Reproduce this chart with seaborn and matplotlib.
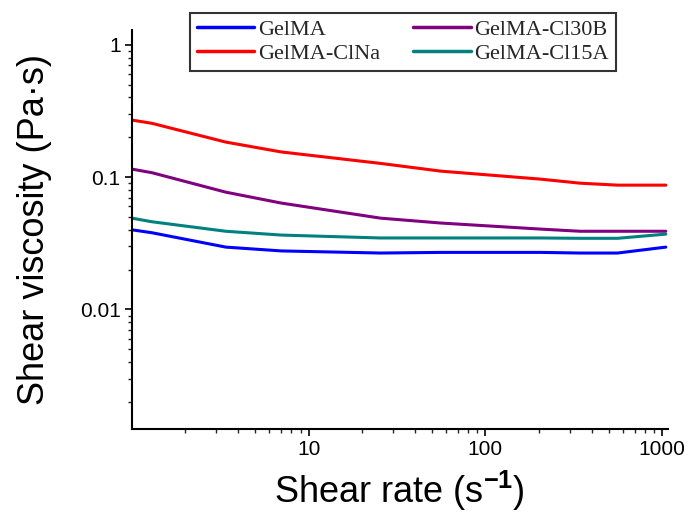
import numpy as np
import pandas as pd
import matplotlib
matplotlib.use("Agg")
import matplotlib.pyplot as plt
import matplotlib.ticker as mticker
import seaborn as sns

# 剪切速率 (s^-1)
shear_rate = [1.0, 1.3, 3.4, 7.0, 25.5, 56.0, 205.0, 344.0, 560.0, 1050.0]

# 各组剪切粘度 (Pa·s)
gelma = [0.040, 0.038, 0.0296, 0.0277, 0.0267, 0.0270, 0.0270, 0.0267, 0.0267, 0.0296]
gelma_clna = [0.27, 0.255, 0.184, 0.155, 0.127, 0.111, 0.0966, 0.090, 0.087, 0.087]
gelma_cl30b = [0.115, 0.108, 0.077, 0.0637, 0.049, 0.045, 0.0405, 0.039, 0.039, 0.039]
gelma_cl15a = [0.049, 0.046, 0.039, 0.0365, 0.0347, 0.0347, 0.0347, 0.0345, 0.0345, 0.0371]

series_names = ["GelMA", "GelMA-ClNa", "GelMA-Cl30B", "GelMA-Cl15A"]
series_colors = ["#0000ff", "#ff0000", "#800080", "#008080"]

frames = []
for name, vals in zip(series_names, [gelma, gelma_clna, gelma_cl30b, gelma_cl15a]):
    frames.append(pd.DataFrame({"rate": shear_rate, "visc": vals, "sample": name}))
df = pd.concat(frames, ignore_index=True)

sns.set_style("ticks")
plt.rcParams["font.family"] = ["Liberation Sans", "DejaVu Sans"]
plt.rcParams["mathtext.fontset"] = "custom"
plt.rcParams["mathtext.rm"] = "Liberation Sans"
plt.rcParams["mathtext.bf"] = "Liberation Sans:bold"

fig = plt.figure(figsize=(6.94, 5.20), dpi=100)
ax = fig.add_axes([0.190, 0.175, 0.7725, 0.767])

sns.lineplot(
    data=df, x="rate", y="visc", hue="sample",
    hue_order=series_names, palette=series_colors,
    linewidth=2.2, ax=ax, legend=False
)

ax.set_xscale("log")
ax.set_yscale("log")
ax.set_xlim(1.0, 1080)
ax.set_ylim(0.00125, 1.29)

# 坐标刻度
ax.xaxis.set_major_locator(mticker.FixedLocator([10, 100, 1000]))
ax.xaxis.set_major_formatter(mticker.FixedFormatter(["10", "100", "1000"]))
ax.xaxis.set_minor_locator(mticker.LogLocator(base=10, subs=np.arange(2, 10)))
ax.xaxis.set_minor_formatter(mticker.NullFormatter())
ax.yaxis.set_major_locator(mticker.FixedLocator([0.01, 0.1, 1]))
ax.yaxis.set_major_formatter(mticker.FixedFormatter(["0.01", "0.1", "1"]))
ax.yaxis.set_minor_locator(mticker.LogLocator(base=10, subs=np.arange(2, 10)))
ax.yaxis.set_minor_formatter(mticker.NullFormatter())

ax.tick_params(which="major", direction="out", length=5, width=1.2,
               labelsize=15, colors="black", pad=3)
ax.tick_params(which="minor", direction="out", length=3, width=1.0)
for side in ["left", "bottom"]:
    ax.spines[side].set_linewidth(1.5)
    ax.spines[side].set_color("black")
sns.despine(ax=ax)

ax.set_xlabel("Shear rate (s$^{\\mathbf{-1}}$)", fontsize=26, labelpad=7, color="black")
ax.set_ylabel("Shear viscosity (Pa·s)", fontsize=26, labelpad=20, color="black")

# 图例
handles = [plt.Line2D([], [], color=c, linewidth=2.5) for c in series_colors]
leg = fig.legend(
    handles, series_names, ncol=2,
    loc="upper left", bbox_to_anchor=(0.2738, 0.975),
    prop={"family": "Liberation Serif", "size": 16},
    frameon=True, fancybox=False, edgecolor="black",
    handlelength=2.6, handletextpad=0.15, columnspacing=1.5,
    labelspacing=0.15, borderpad=0.3, borderaxespad=0
)
leg.get_frame().set_linewidth(1.5)

fig.savefig("out.png", dpi=100)
